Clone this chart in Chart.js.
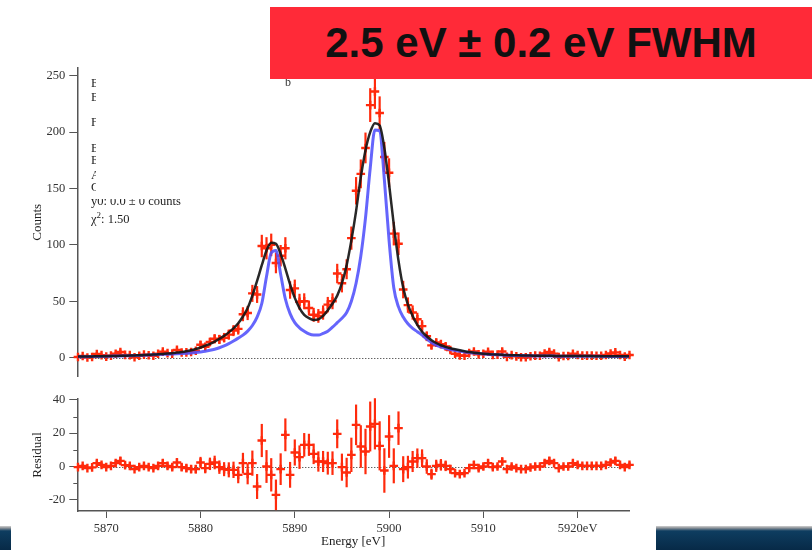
<!DOCTYPE html>
<html lang="en">
<head>
  <meta charset="UTF-8">
  <title>Mn K-alpha line shape fit</title>
  <script src="https://cdn.jsdelivr.net/npm/chart.js"></script>
  <style>
    body { margin: 0; background: #fff; }
    .page { position: relative; width: 812px; height: 550px; overflow: hidden; background: #fff; }
    canvas { position: absolute; left: 0; top: 0; }
    .banner {
      position: absolute; left: 270px; top: 7px; width: 542px; height: 72px;
      background: #ff2a38; color: #111; z-index: 5;
      font: bold 42px "Liberation Sans", Arial, sans-serif;
      display: flex; align-items: center; justify-content: center;
    }
    .fitbox { position: absolute; left: 91px; top: 0; z-index: 2;
      font: 12.5px "Liberation Serif", "Times New Roman", serif; color: #222; white-space: nowrap; }
    .fitbox div { position: absolute; left: 0; }
    .cover { position: absolute; left: 96px; top: 70px; width: 188px; height: 129px; background: #fff; z-index: 3; }
    .stray { position: absolute; left: 285px; top: 75px; z-index: 4;
      font: 12px "Liberation Serif", serif; color: #333; }
    .strip { position: absolute; top: 526px; height: 24px; z-index: 5;
      background: linear-gradient(#d0d0d0 0, #8c9298 2px, #0e3d60 5px, #072a47 100%); }
  </style>
</head>
<body>
<div class="page">
  <canvas id="spectrum" width="812" height="550"></canvas>
  <canvas id="residual" width="812" height="550"></canvas>

  <div class="fitbox">
    <div style="top:76px">E1: 5898.80 eV</div>
    <div style="top:90px">E2: 5887.65 eV</div>
    <div style="top:115px">FWHM: 2.5 ± 0.2 eV</div>
    <div style="top:141px">E shift: 0.0 eV</div>
    <div style="top:153px">E scale: 1.00</div>
    <div style="top:168px">Amp: 1.0</div>
    <div style="top:180px">Counts: 4200</div>
    <div style="top:194px">y0: 0.0 ± 0 counts</div>
    <div style="top:210px">χ<sup style="font-size:9px">2</sup>: 1.50</div>
  </div>
  <div class="cover"></div>
  <div class="stray">b</div>

  <div class="banner">2.5 eV ± 0.2 eV FWHM</div>
  <div class="strip" style="left:0; width:11px;"></div>
  <div class="strip" style="left:656px; width:156px;"></div>
</div>

<script>
  // energy bins [eV]
  const energy = [
    5867,5867.5,5868,5868.5,5869,5869.5,5870,5870.5,5871,5871.5,
    5872,5872.5,5873,5873.5,5874,5874.5,5875,5875.5,5876,5876.5,
    5877,5877.5,5878,5878.5,5879,5879.5,5880,5880.5,5881,5881.5,
    5882,5882.5,5883,5883.5,5884,5884.5,5885,5885.5,5886,5886.5,
    5887,5887.5,5888,5888.5,5889,5889.5,5890,5890.5,5891,5891.5,
    5892,5892.5,5893,5893.5,5894,5894.5,5895,5895.5,5896,5896.5,
    5897,5897.5,5898,5898.5,5899,5899.5,5900,5900.5,5901,5901.5,
    5902,5902.5,5903,5903.5,5904,5904.5,5905,5905.5,5906,5906.5,
    5907,5907.5,5908,5908.5,5909,5909.5,5910,5910.5,5911,5911.5,
    5912,5912.5,5913,5913.5,5914,5914.5,5915,5915.5,5916,5916.5,
    5917,5917.5,5918,5918.5,5919,5919.5,5920,5920.5,5921,5921.5,
    5922,5922.5,5923,5923.5,5924,5924.5,5925,5925.5
  ];

  // measured counts per bin
  const counts = [
    0.6,1.4,0.1,0.6,3.2,2.2,0.9,1.8,3.5,5.0,
    2.5,2.2,0.4,1.7,2.7,2.1,1.7,3.4,5.3,4.0,
    3.6,6.9,4.6,4.7,5.0,6.1,11.4,9.6,13.9,16.7,
    16.2,17.7,20.4,24.0,25.5,38.5,39.6,57,56,99,
    97,100,84,90.4,97,60,61.4,49.6,50,44,
    38,37,40,47,50,74.6,66,78.4,106,148,
    163,186,224,236,217,178,164,110,101,60.4,
    46.6,40,34,28,19,10.9,13.4,12,10,6.8,
    3.4,1.9,1.7,4.0,5.4,2.9,3.5,5.2,2.5,2.7,
    5.5,0.7,2.2,1.1,0.4,0.3,1.2,1.75,1.7,3.65,
    5.0,3.55,0.5,1.5,1.45,3.4,2.4,1.8,1.75,1.75,
    1.7,1.7,2.3,3.7,4.7,2.3,0.9,2.3
  ];

  // fitted model (black)
  const fitCounts = [
    1.0,1.0,1.1,1.1,1.2,1.2,1.3,1.4,1.5,1.6,
    1.7,1.8,2.0,2.1,2.3,2.5,2.7,3.0,3.3,3.6,
    4.0,4.5,5.0,5.7,6.6,7.7,9.0,10.6,12.3,14.3,
    16.6,19.3,22.4,26.0,30.5,36.5,44,55,68,82,
    95,102,101,92,79,65,53,44,38,35,
    33.5,34,37,42,48,55,66,82,104,130,
    160,184,200,208,206,186,154,118,86,62,
    47,37,29,23,19,15.5,13,11,9.6,8.4,
    7.4,6.5,5.7,5.0,4.4,3.9,3.5,3.2,2.9,2.7,
    2.5,2.3,2.2,2.1,2.0,1.9,1.8,1.75,1.7,1.65,
    1.6,1.55,1.5,1.5,1.45,1.4,1.4,1.4,1.35,1.35,
    1.3,1.3,1.3,1.3,1.3,1.3,1.3,1.3
  ];

  // intrinsic line shape (blue)
  const lineShape = [
    0.8,0.9,0.9,1.0,1.0,1.1,1.2,1.3,1.4,1.5,
    1.6,1.7,1.8,2.0,2.1,2.3,2.5,2.7,2.9,3.1,
    3.3,3.5,3.7,3.9,4.2,4.6,5.1,5.7,6.5,7.5,
    8.8,10.5,12.5,14.8,17.3,20.0,23.5,28.5,36,48,
    72,93,95,74,52,39,31,26.5,23.5,21,
    20,20,21.5,23.5,27,31,35,40,50,66,
    90,124,168,202,201,158,104,62,45,36,
    30,26,23,20,16.5,13.5,11,9.5,8.3,7.3,
    6.4,5.7,5.1,4.6,4.1,3.7,3.3,3.0,2.7,2.5,
    2.3,2.1,2.0,1.9,1.8,1.7,1.6,1.55,1.5,1.45,
    1.4,1.35,1.3,1.3,1.25,1.25,1.2,1.2,1.2,1.15,
    1.15,1.15,1.1,1.1,1.1,1.1,1.1,1.1
  ];

  // data minus fit
  const residual = [
    -0.4,0.4,-1.0,-0.5,2.0,1.0,-0.4,0.4,2.0,3.4,
    0.8,0.4,-1.6,-0.4,0.4,-0.4,-1.0,0.4,2.0,0.4,
    -0.4,2.4,-0.4,-1.0,-1.6,-1.6,2.4,-1.0,1.6,2.4,
    -0.4,-1.6,-2.0,-2.0,-5.0,2.0,-4.4,2.0,-12.0,15.6,
    0.0,-5.0,-17.0,-1.6,19.0,-5.0,8.4,5.6,13.0,13.0,
    7.6,3.0,3.0,2.0,2.0,19.6,-0.4,-3.6,7.0,25.0,
    12.0,9.0,24.0,25.6,12.4,-2.4,18.0,0.4,23.0,-1.6,
    -0.4,3.0,5.0,5.0,0.0,-4.6,0.4,1.0,0.4,-1.6,
    -4.0,-4.6,-4.0,-1.0,1.0,-1.0,0.0,2.0,-0.4,0.0,
    3.0,-1.6,0.0,-1.0,-1.6,-1.6,-0.6,0.0,0.0,2.0,
    3.4,2.0,-1.0,0.0,0.0,2.0,1.0,0.4,0.4,0.4,
    0.4,0.4,1.0,2.4,3.4,1.0,-0.4,1.0
  ];

  const xTicks = [5870, 5880, 5890, 5900, 5910, 5920];
  const countTicks = [0, 50, 100, 150, 200, 250];
  const residTicks = [-20, 0, 20, 40];
  const residMinor = [-10, 10, 30];

  const RED = 'rgb(255,42,12)';
  const AXIS = '#555';
  const tickFont = { family: 'Liberation Serif', size: 12.5 };
  const titleFont = { family: 'Liberation Serif', size: 13 };

  // poisson errors from the counts
  const errors = counts.map(c => Math.sqrt(c));

  // error bars + dotted zero line, drawn under the datasets
  const errorBars = {
    id: 'errorBars',
    beforeDatasetsDraw(chart) {
      const ctx = chart.ctx, xs = chart.scales.x, ys = chart.scales.y;
      const area = chart.chartArea;
      ctx.save();
      ctx.strokeStyle = '#222';
      ctx.lineWidth = 1;
      ctx.setLineDash([1, 2]);
      const y0 = Math.round(ys.getPixelForValue(0)) + 0.5;
      ctx.beginPath(); ctx.moveTo(area.left, y0); ctx.lineTo(area.right, y0); ctx.stroke();
      ctx.setLineDash([]);
      chart.data.datasets.forEach(ds => {
        if (!ds.errors) return;
        ctx.strokeStyle = RED;
        ctx.lineWidth = 2.2;
        ds.data.forEach((p, i) => {
          const x = xs.getPixelForValue(p.x);
          ctx.beginPath();
          ctx.moveTo(x, ys.getPixelForValue(p.y - ds.errors[i]));
          ctx.lineTo(x, ys.getPixelForValue(p.y + ds.errors[i]));
          ctx.stroke();
        });
      });
      ctx.restore();
    },
    afterDraw(chart, args, opts) {
      if (!opts.minor) return;
      const ctx = chart.ctx, ys = chart.scales.y, left = chart.chartArea.left;
      ctx.save();
      ctx.strokeStyle = AXIS;
      ctx.lineWidth = 1;
      opts.minor.forEach(v => {
        const y = Math.round(ys.getPixelForValue(v)) + 0.5;
        ctx.beginPath(); ctx.moveTo(left - 4, y); ctx.lineTo(left, y); ctx.stroke();
      });
      ctx.restore();
    }
  };

  const pts = arr => energy.map((e, i) => ({ x: e, y: arr[i] }));

  function yAxis(min, max, ticks, title, titleTop) {
    return {
      type: 'linear', min: min, max: max,
      afterFit: s => { s.width = 77.3; },
      afterBuildTicks: s => { s.ticks = ticks.map(v => ({ value: v })); },
      border: { display: true, color: AXIS, width: 1.5 },
      grid: { display: true, drawOnChartArea: false, drawTicks: true, tickLength: 8, color: AXIS },
      ticks: { padding: 4, color: '#333', font: tickFont, callback: v => String(v) },
      title: { display: true, text: title, color: '#222', font: titleFont, padding: { top: titleTop, bottom: 0 } }
    };
  }

  const xMin = 5866.93, xMax = 5925.45;

  new Chart(document.getElementById('spectrum'), {
    type: 'line',
    data: {
      datasets: [
        { label: 'fit', data: pts(fitCounts), borderColor: 'rgba(22,22,22,0.92)', borderWidth: 2.5,
          pointRadius: 0, cubicInterpolationMode: 'monotone', order: 1 },
        { label: 'line shape', data: pts(lineShape), borderColor: 'rgba(80,80,252,0.88)', borderWidth: 3,
          pointRadius: 0, cubicInterpolationMode: 'monotone', order: 2 },
        { label: 'data', type: 'scatter', data: pts(counts), errors: errors, showLine: false,
          pointStyle: 'cross', pointRadius: 4.3, pointBorderWidth: 2.4, pointBorderColor: RED,
          borderColor: RED, backgroundColor: RED, clip: false, order: 3 }
      ]
    },
    options: {
      responsive: false, animation: false, devicePixelRatio: 1,
      layout: { padding: { left: 0, top: 68, right: 812 - 629, bottom: 550 - 376.7 } },
      plugins: { legend: { display: false }, tooltip: { enabled: false }, errorBars: {} },
      scales: {
        x: { type: 'linear', min: xMin, max: xMax, display: false },
        y: yAxis(-16.9, 256.9, countTicks, 'Counts', 30)
      }
    },
    plugins: [errorBars]
  });

  new Chart(document.getElementById('residual'), {
    type: 'scatter',
    data: {
      datasets: [
        { label: 'residual', data: pts(residual), errors: errors,
          pointStyle: 'cross', pointRadius: 4.3, pointBorderWidth: 2.4, pointBorderColor: RED,
          borderColor: RED, backgroundColor: RED, clip: false }
      ]
    },
    options: {
      responsive: false, animation: false, devicePixelRatio: 1,
      layout: { padding: { left: 0, top: 399, right: 812 - 629, bottom: 0 } },
      plugins: { legend: { display: false }, tooltip: { enabled: false }, errorBars: { minor: residMinor } },
      scales: {
        x: {
          type: 'linear', min: xMin, max: xMax,
          afterFit: s => { s.height = 39; },
          afterBuildTicks: s => { s.ticks = xTicks.map(v => ({ value: v })); },
          border: { display: true, color: AXIS, width: 1.5 },
          grid: { display: true, drawOnChartArea: false, drawTicks: true, tickLength: 7, color: AXIS },
          ticks: { padding: 3, maxRotation: 0, autoSkip: false, color: '#333', font: tickFont,
                   callback: v => v === 5920 ? '5920eV' : String(v) },
          title: { display: true, text: 'Energy [eV]', color: '#222', font: titleFont, padding: { top: 0, bottom: 0.5 } }
        },
        y: yAxis(-26.7, 40.5, residTicks, 'Residual', 30)
      }
    },
    plugins: [errorBars]
  });
</script>
</body>
</html>
